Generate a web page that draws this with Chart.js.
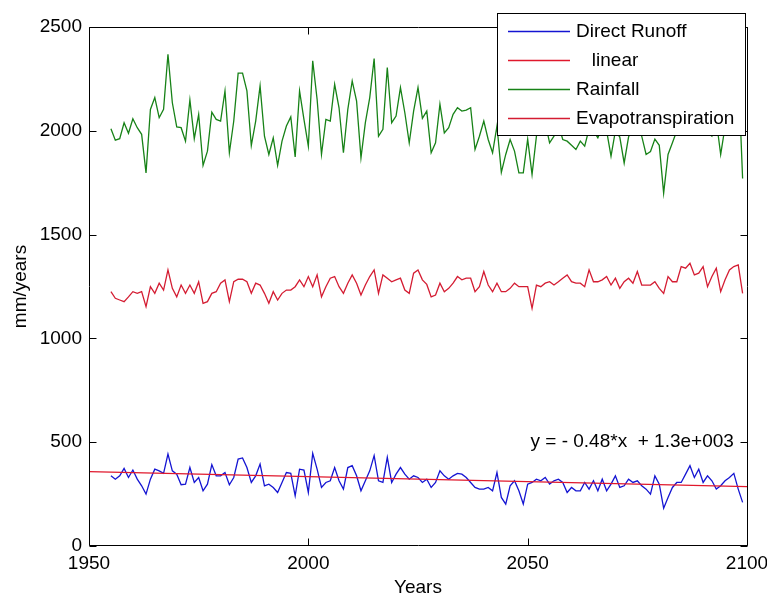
<!DOCTYPE html>
<html>
<head>
<meta charset="utf-8">
<script src="https://cdn.jsdelivr.net/npm/chart.js@4"></script>
<style>
  html, body { margin: 0; padding: 0; background: #fff; }
</style>
</head>
<body>
<canvas id="chart" width="767" height="597"></canvas>
<script>
// annual series, 1955 - 2099
const years = Array.from({ length: 145 }, (_, i) => 1955 + i);

const runoff = [
  338, 322, 338, 374, 330, 366, 322, 290, 250, 322,
  370, 362, 350, 443, 362, 346, 295, 298, 378, 306,
  330, 266, 298, 392, 338, 338, 354, 295, 330, 419,
  424, 378, 306, 338, 395, 290, 298, 282, 258, 306,
  354, 350, 242, 370, 366, 258, 446, 370, 282, 306,
  314, 378, 314, 274, 378, 387, 338, 266, 314, 362,
  435, 314, 306, 427, 306, 346, 378, 346, 322, 338,
  330, 306, 322, 282, 306, 362, 338, 322, 338, 350,
  346, 330, 306, 282, 274, 274, 282, 266, 354, 234,
  202, 290, 314, 266, 202, 298, 306, 322, 314, 330,
  298, 314, 322, 306, 258, 282, 266, 266, 306, 274,
  314, 266, 322, 266, 298, 338, 282, 290, 322, 306,
  314, 290, 274, 250, 338, 298, 182, 234, 282, 306,
  306, 346, 387, 330, 370, 306, 338, 314, 274, 290,
  314, 330, 350, 274, 210
];

const rainfall = [
  2010, 1955, 1962, 2039, 1988, 2058, 2015, 1983, 1797, 2103,
  2160, 2063, 2103, 2369, 2135, 2019, 2015, 1950, 2149, 1962,
  2079, 1833, 1902, 2090, 2055, 2047, 2192, 1894, 2047, 2278,
  2278, 2192, 1929, 2047, 2216, 1974, 1886, 1966, 1833, 1950,
  2023, 2067, 1874, 2192, 2055, 1926, 2337, 2152, 1886, 2055,
  2047, 2224, 2111, 1894, 2103, 2240, 2143, 1870, 2039, 2160,
  2348, 1974, 2007, 2305, 2039, 2071, 2208, 2087, 1942, 2095,
  2208, 2060, 2095, 1894, 1942, 2128, 1990, 2015, 2079, 2111,
  2095, 2100, 2111, 1910, 1974, 2047, 1958, 1894, 2023, 1800,
  1886, 1958, 1902, 1797, 1797, 1960, 1789, 1974, 2050, 2040,
  1942, 1974, 2030, 1958, 1950, 1930, 1910, 1950, 1926, 2010,
  2000, 1966, 2020, 2000, 1878, 2000, 1970, 1845, 1970, 2020,
  2000, 1974, 1886, 1900, 1960, 1930, 1700, 1886, 1942, 2000,
  2050, 2100, 2040, 2120, 2050, 2080, 1990, 1974, 2050, 1886,
  2020, 2050, 2150, 2300, 1770
];

const evapo = [
  1225, 1193, 1185, 1177, 1200, 1225, 1217, 1225, 1153, 1249,
  1217, 1266, 1233, 1330, 1241, 1200, 1257, 1217, 1257, 1217,
  1273, 1169, 1177, 1217, 1225, 1266, 1282, 1177, 1273, 1285,
  1285, 1273, 1217, 1266, 1257, 1217, 1169, 1225, 1185, 1217,
  1233, 1233, 1249, 1282, 1249, 1298, 1249, 1306, 1200, 1249,
  1290, 1298, 1249, 1217, 1266, 1306, 1266, 1209, 1257, 1298,
  1330, 1217, 1306, 1290, 1273, 1282, 1290, 1233, 1217, 1314,
  1330, 1282, 1260, 1200, 1209, 1266, 1225, 1241, 1266, 1298,
  1282, 1290, 1290, 1225, 1249, 1322, 1257, 1225, 1266, 1225,
  1225, 1241, 1266, 1249, 1249, 1249, 1145, 1257, 1249, 1266,
  1273, 1257, 1273, 1290, 1306, 1273, 1266, 1266, 1249, 1330,
  1273, 1273, 1282, 1298, 1257, 1290, 1241, 1273, 1290, 1266,
  1322, 1257, 1257, 1257, 1273, 1241, 1217, 1298, 1273, 1273,
  1346, 1338, 1362, 1306, 1314, 1346, 1249, 1298, 1338, 1225,
  1282, 1330, 1346, 1354, 1217
];

// linear fit of runoff
const linearYears = [1950, 2100];
const linearValues = [358, 286];

const xTicks = [1950, 2000, 2050, 2100];
const yTicks = [0, 500, 1000, 1500, 2000, 2500];
const fitLabel = 'y = - 0.48*x  + 1.3e+003';

const FONT = "'Liberation Sans', Arial, sans-serif";
const pts = (xs, ys) => xs.map((v, i) => ({ x: v, y: ys[i] }));

// box, inward ticks, fit label and legend like matlab
const matlabBox = {
  id: 'matlabBox',
  afterDatasetsDraw(chart) {
    const { ctx, chartArea: a, scales: { x, y } } = chart;
    const L = Math.round(a.left) + 0.5, R = Math.round(a.right) + 0.5;
    const T = Math.round(a.top) + 0.5, B = Math.round(a.bottom) - 0.5;
    const tl = 7;
    ctx.save();
    ctx.strokeStyle = '#000';
    ctx.lineWidth = 1;
    ctx.beginPath();
    ctx.rect(L, T, R - L, B - T);
    xTicks.forEach(v => {
      const px = Math.round(x.getPixelForValue(v)) + 0.5;
      ctx.moveTo(px, B); ctx.lineTo(px, B - tl);
      ctx.moveTo(px, T); ctx.lineTo(px, T + tl);
    });
    yTicks.forEach(v => {
      const py = Math.round(y.getPixelForValue(v)) + 0.5;
      ctx.moveTo(L, py); ctx.lineTo(L + tl, py);
      ctx.moveTo(R, py); ctx.lineTo(R - tl, py);
    });
    ctx.stroke();

    // equation of the fit
    ctx.fillStyle = '#000';
    ctx.font = '19px ' + FONT;
    ctx.textAlign = 'right';
    ctx.textBaseline = 'middle';
    ctx.fillText(fitLabel, x.getPixelForValue(2097), y.getPixelForValue(500));

    // legend
    const lx = 497.5, ly = 13.5, lw = 248, lh = 122;
    ctx.fillStyle = '#fff';
    ctx.fillRect(lx, ly, lw, lh);
    ctx.strokeRect(lx, ly, lw, lh);
    ctx.textAlign = 'left';
    chart.data.datasets.forEach((ds, i) => {
      const cy = 31.5 + i * 29;
      ctx.strokeStyle = ds.borderColor;
      ctx.lineWidth = 1.3;
      ctx.beginPath();
      ctx.moveTo(508, cy); ctx.lineTo(570, cy);
      ctx.stroke();
      ctx.fillStyle = '#000';
      ctx.fillText(ds.label, 576, cy);
    });
    ctx.restore();
  }
};

const line = (label, data, color, order) => ({
  label, data, order,
  borderColor: color,
  borderWidth: 1.3,
  pointRadius: 0,
  tension: 0,
  fill: false
});

new Chart(document.getElementById('chart'), {
  type: 'line',
  data: {
    datasets: [
      line('Direct Runoff', pts(years, runoff), '#1414d2', 1),
      line('   linear', pts(linearYears, linearValues), '#e0182c', 0),
      line('Rainfall', pts(years, rainfall), '#178217', 2),
      line('Evapotranspiration', pts(years, evapo), '#d41c32', 3)
    ]
  },
  options: {
    responsive: false,
    animation: false,
    devicePixelRatio: 1,
    layout: { padding: { top: 27, right: 20, left: 0, bottom: 0 } },
    plugins: { legend: { display: false }, tooltip: { enabled: false } },
    scales: {
      x: {
        type: 'linear', min: 1950, max: 2100,
        grid: { display: false, drawTicks: false },
        border: { display: false },
        ticks: { stepSize: 50, padding: 6, maxRotation: 0, color: '#000',
                 font: { family: FONT, size: 19 }, callback: v => String(v) },
        title: { display: true, text: 'Years', color: '#000',
                 font: { family: FONT, size: 19, lineHeight: 1 }, padding: { top: 0, bottom: 0 } },
        afterFit(s) { s.height = 51; s.paddingLeft = 0; s.paddingRight = 0; }
      },
      y: {
        min: 0, max: 2500,
        grid: { display: false, drawTicks: false },
        border: { display: false },
        ticks: { stepSize: 500, padding: 7, color: '#000',
                 font: { family: FONT, size: 19 }, callback: v => String(v) },
        title: { display: true, text: 'mm/years', color: '#000',
                 font: { family: FONT, size: 19, lineHeight: 1 }, padding: { top: 11.5, bottom: 0 } },
        afterFit(s) { s.width = 89; }
      }
    }
  },
  plugins: [matlabBox]
});
</script>
</body>
</html>
